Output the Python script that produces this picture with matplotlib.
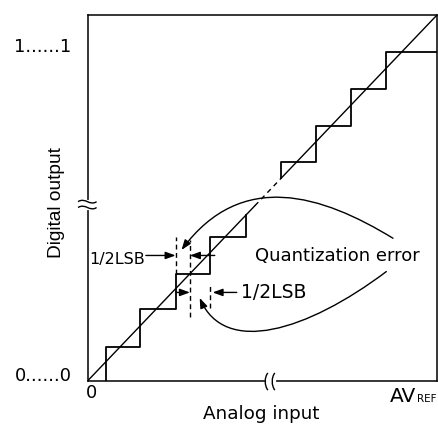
import matplotlib
matplotlib.use("Agg")
import matplotlib.pyplot as plt
from matplotlib.path import Path
from matplotlib.patches import FancyArrowPatch, PathPatch

OUTPUT_FIG = "out.png"

# axis ranges, in LSB units
X_MAX = 10.0
Y_MAX = 10.0

# lower staircase: riser positions and tread levels
LOW_EDGES = [0.52, 1.51, 2.52, 3.50, 4.53]
LOW_LEVELS = [0.94, 1.96, 2.93, 3.93]

# upper staircase (after the gap)
HIGH_EDGES = [5.55, 6.53, 7.55, 8.55]
HIGH_LEVELS = [5.99, 6.98, 7.97, 8.98]

# ideal line is solid, dashed over the skipped codes, then solid again
IDEAL_SOLID_END = 4.79
IDEAL_RESUME = 5.55

# 1/2 LSB guide lines (dashed)
GUIDE_X = [2.52, 2.93, 3.50]
GUIDE_LO = [2.93, 1.76, 1.99]
GUIDE_HI = [3.94, 3.85, 2.62]

# straight dimension arrows: start x, tip x, y
ARROW_START = [1.67, 3.64, 2.52, 4.27]
ARROW_TIP = [2.52, 2.93, 2.93, 3.58]
ARROW_Y = [3.43, 3.43, 2.42, 2.42]

Y_TICKS = [0, 8.98]
Y_TICK_LABELS = ["0......0", "1......1"]


def staircase(edges, levels, start_y, end_x):
    xs, ys = [edges[0]], [start_y]
    for i, lvl in enumerate(levels):
        nxt = edges[i + 1] if i + 1 < len(edges) else end_x
        xs += [edges[i], nxt]
        ys += [lvl, lvl]
    return xs, ys


def bezier(p0, p1, p2, p3):
    return Path([p0, p1, p2, p3], [Path.MOVETO, Path.CURVE4, Path.CURVE4, Path.CURVE4])


def draw_breaks(ax):
    # wavy break marks on the y axis
    ax.plot([0, 0], [4.74, 4.90], color="white", lw=3, clip_on=False, zorder=3)
    for y in [4.90, 4.74]:
        p = bezier((-0.27, y), (-0.06, y + 0.13), (0.06, y - 0.13), (0.26, y))
        ax.add_patch(PathPatch(p, fill=False, lw=1.0, clip_on=False, zorder=4))
    # and on the x axis
    ax.plot([5.13, 5.33], [0, 0], color="white", lw=3, clip_on=False, zorder=3)
    for x in [5.13, 5.33]:
        p = bezier((x + 0.03, 0.22), (x - 0.07, 0.10), (x - 0.07, -0.12), (x + 0.03, -0.25))
        ax.add_patch(PathPatch(p, fill=False, lw=1.0, clip_on=False, zorder=4))


def main():
    plt.rcParams["font.family"] = ["DejaVu Sans"]
    fig = plt.figure(figsize=(4.38, 4.25), dpi=100)
    ax = fig.add_axes([87.5 / 438, 44 / 425, 349.5 / 438, 366 / 425])
    ax.set_xlim(0, X_MAX)
    ax.set_ylim(0, Y_MAX)
    for sp in ax.spines.values():
        sp.set_linewidth(1.1)

    # ideal conversion line
    ax.plot([0, IDEAL_SOLID_END], [0, IDEAL_SOLID_END], color="black", lw=1.0)
    ax.plot([IDEAL_SOLID_END, IDEAL_RESUME], [IDEAL_SOLID_END, IDEAL_RESUME],
            color="black", lw=1.0, linestyle=(0, (3.5, 3)))
    ax.plot([IDEAL_RESUME, X_MAX], [IDEAL_RESUME, Y_MAX], color="black", lw=1.0)

    # actual staircase
    xs, ys = staircase(LOW_EDGES, LOW_LEVELS, 0, LOW_EDGES[-1])
    xs.append(LOW_EDGES[-1])
    ys.append(LOW_EDGES[-1])
    ax.plot(xs, ys, color="black", lw=1.3)
    xs, ys = staircase(HIGH_EDGES, HIGH_LEVELS, HIGH_EDGES[0], X_MAX)
    ax.plot(xs, ys, color="black", lw=1.3)

    ax.vlines(GUIDE_X, GUIDE_LO, GUIDE_HI, colors="black", lw=1.0,
              linestyles=[(0, (3.5, 2.5))])

    for x0, x1, y in zip(ARROW_START, ARROW_TIP, ARROW_Y):
        ax.add_patch(FancyArrowPatch((x0, y), (x1, y), shrinkA=0, shrinkB=0,
                                     arrowstyle="-|>,head_length=0.6,head_width=0.22",
                                     mutation_scale=10, lw=1.0, color="black"))

    # curved pointers from the "Quantization error" label
    upper = bezier((8.74, 3.90), (6.72, 5.08), (4.41, 5.79), (2.69, 3.58))
    lower = bezier((8.55, 2.99), (6.28, 1.36), (3.93, 0.68), (3.21, 2.27))
    for p in [upper, lower]:
        ax.add_patch(FancyArrowPatch(path=p, arrowstyle="-|>,head_length=0.6,head_width=0.22",
                                     mutation_scale=10, lw=1.0, color="black"))

    ax.text(1.64, 3.20, "1/2LSB", ha="right", va="baseline", fontsize=11.5)
    ax.text(4.39, 2.27, "1/2LSB", ha="left", va="baseline", fontsize=13.5)
    ax.text(7.16, 3.27, "Quantization error", ha="center", va="baseline", fontsize=13)

    draw_breaks(ax)

    ax.set_xticks([])
    ax.set_yticks(Y_TICKS, Y_TICK_LABELS, fontsize=13)
    ax.tick_params(axis="y", length=0, pad=11.5)
    for lbl in ax.get_yticklabels():
        lbl.set_va("baseline")

    ax.text(0.012, -0.047, "0", transform=ax.transAxes, ha="center", va="baseline", fontsize=13)
    ax.text(0.9413, -0.0566, "AV", transform=ax.transAxes, ha="right", va="baseline", fontsize=14.5)
    ax.text(0.9430, -0.0566, "REF", transform=ax.transAxes, ha="left", va="baseline", fontsize=7.5)

    ax.set_xlabel("Analog input", fontsize=13.2)
    ax.xaxis.label.set_va("baseline")
    ax.xaxis.set_label_coords(0.496, -0.1046)
    ax.text(-0.0757, 0.487, "Digital output", transform=ax.transAxes, rotation=90,
            rotation_mode="anchor", ha="center", va="baseline",
            family=["Liberation Sans", "DejaVu Sans"], fontsize=13.8)

    fig.savefig(OUTPUT_FIG, dpi=100)


if __name__ == "__main__":
    main()
